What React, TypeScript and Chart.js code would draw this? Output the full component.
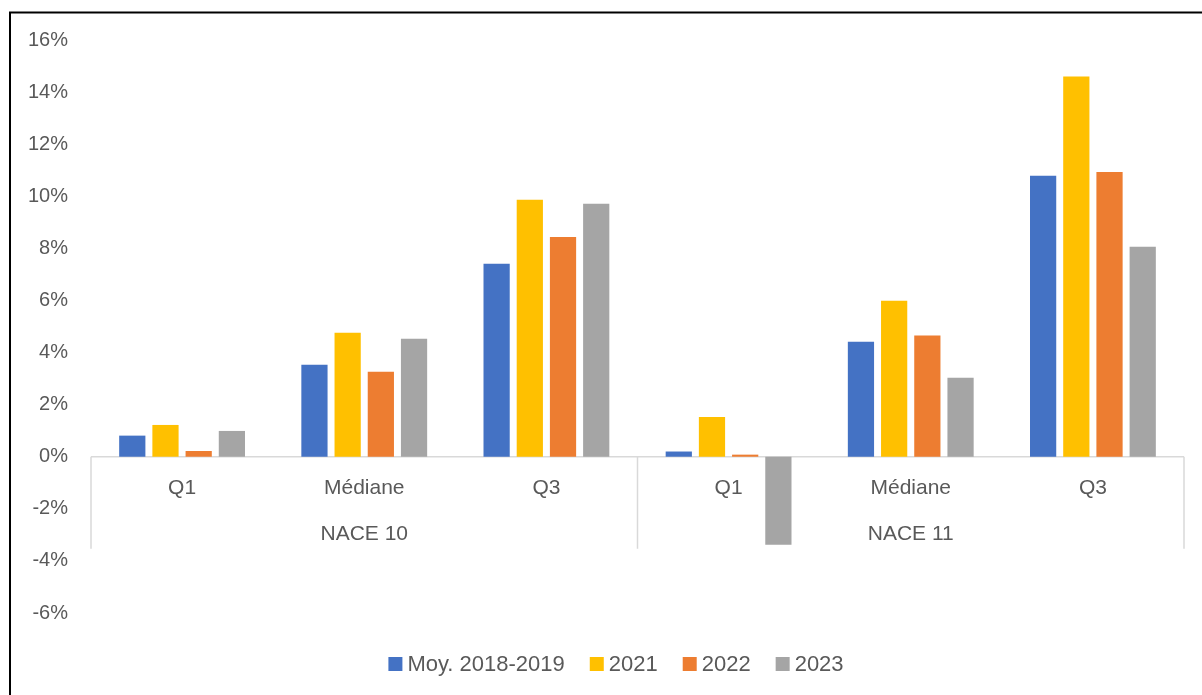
import React, { useEffect, useRef } from "react";
import { Chart, registerables } from "chart.js";

Chart.register(...registerables);

const categories = ["Q1", "Médiane", "Q3", "Q1", "Médiane", "Q3"];
const groups = ["NACE 10", "NACE 11"];
const seriesLabels = ["Moy. 2018-2019", "2021", "2022", "2023"];
const seriesColors = ["#4472C4", "#FFC000", "#ED7D31", "#A5A5A5"];
const moy20182019 = [0.81, 3.53, 7.41, 0.2, 4.41, 10.79];
const y2021 = [1.22, 4.76, 9.87, 1.53, 5.99, 14.6];
const y2022 = [0.22, 3.26, 8.44, 0.08, 4.65, 10.93];
const y2023 = [0.99, 4.53, 9.71, -3.38, 3.03, 8.06];
const yTicks = { min: -6, max: 16, step: 2 };

const FONT = "'Liberation Sans', Arial, sans-serif";
const TEXT = "#595959";
const AXIS = "#D9D9D9";

const decorPlugin = {
  id: "decor",
  beforeDraw(chart: any) {
    const ctx = chart.ctx;
    ctx.save();
    ctx.fillStyle = "#ffffff";
    ctx.fillRect(0, 0, chart.width, chart.height);
    ctx.strokeStyle = "#000000";
    ctx.lineWidth = 2;
    ctx.beginPath();
    ctx.moveTo(10, chart.height);
    ctx.lineTo(10, 12.5);
    ctx.lineTo(chart.width, 12.5);
    ctx.stroke();
    ctx.restore();
  },
  beforeDatasetsDraw(chart: any) {
    const ctx = chart.ctx;
    const y = chart.scales.y;
    const area = chart.chartArea;
    const y0 = y.getPixelForValue(0);
    const n = categories.length;
    const cw = (area.right - area.left) / n;
    ctx.save();
    ctx.strokeStyle = AXIS;
    ctx.lineWidth = 1.5;
    ctx.beginPath();
    ctx.moveTo(area.left, y0);
    ctx.lineTo(area.right, y0);
    const per = n / groups.length;
    for (let g = 0; g <= groups.length; g++) {
      const xx = area.left + g * per * cw;
      ctx.moveTo(xx, y0);
      ctx.lineTo(xx, y0 + 92);
    }
    ctx.stroke();
    ctx.restore();
  },
  afterDatasetsDraw(chart: any) {
    const ctx = chart.ctx;
    const x = chart.scales.x;
    const y = chart.scales.y;
    const area = chart.chartArea;
    const y0 = y.getPixelForValue(0);
    const n = categories.length;
    const cw = (area.right - area.left) / n;
    ctx.save();
    ctx.fillStyle = TEXT;
    ctx.font = `21px ${FONT}`;
    ctx.textAlign = "center";
    ctx.textBaseline = "middle";
    categories.forEach((c, i) => {
      ctx.fillText(c, x.getPixelForValue(i), y0 + 31);
    });
    const per = n / groups.length;
    groups.forEach((g, gi) => {
      const cx = area.left + (gi * per + per / 2) * cw;
      ctx.fillText(g, cx, y0 + 77);
    });

    // legend
    ctx.font = `22px ${FONT}`;
    const box = 14;
    const gapText = 5;
    const gapItem = 25;
    const items = chart.data.datasets.map((d: any) => ({
      label: d.label,
      color: d.backgroundColor,
      w: ctx.measureText(d.label).width,
    }));
    const total =
      items.reduce((s: number, it: any) => s + box + gapText + it.w, 0) +
      gapItem * (items.length - 1);
    let lx = 616 - total / 2;
    const ly = 664;
    ctx.textAlign = "left";
    items.forEach((it: any) => {
      ctx.fillStyle = it.color;
      ctx.fillRect(lx, ly - box / 2, box, box);
      ctx.fillStyle = TEXT;
      ctx.fillText(it.label, lx + box + gapText, ly + 1);
      lx += box + gapText + it.w + gapItem;
    });
    ctx.restore();
  },
};

export default function App() {
  const ref = useRef<HTMLCanvasElement | null>(null);
  useEffect(() => {
    document.body.style.margin = "0";
    const seriesData = [moy20182019, y2021, y2022, y2023];
    const chart = new Chart(ref.current as HTMLCanvasElement, {
      type: "bar",
      data: {
        labels: categories,
        datasets: seriesData.map((d, i) => ({
          label: seriesLabels[i],
          data: d,
          backgroundColor: seriesColors[i],
          borderWidth: 0,
          categoryPercentage: 0.729,
          barPercentage: 0.79,
        })),
      },
      options: {
        animation: false,
        responsive: false,
        devicePixelRatio: 1,
        layout: { padding: { top: 40, right: 18, bottom: 82, left: 0 } },
        plugins: {
          legend: { display: false },
          tooltip: { enabled: false },
        },
        scales: {
          x: { display: false },
          y: {
            min: yTicks.min,
            max: yTicks.max,
            grid: { display: false },
            border: { display: false },
            ticks: {
              stepSize: yTicks.step,
              color: TEXT,
              font: { size: 20, family: FONT },
              padding: 15,
              callback: (v: any) => `${v}%`,
            },
            afterFit: (s: any) => {
              s.width = 91;
            },
          },
        },
      },
      plugins: [decorPlugin],
    });
    return () => chart.destroy();
  }, []);
  return (
    <div style={{ width: 1202, height: 695 }}>
      <canvas ref={ref} width={1202} height={695} />
    </div>
  );
}
